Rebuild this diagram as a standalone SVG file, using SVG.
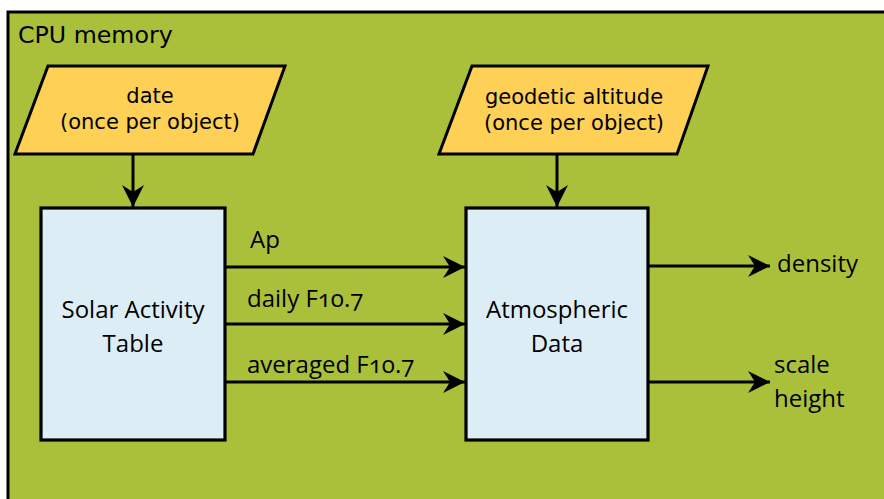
<svg xmlns="http://www.w3.org/2000/svg" width="884" height="499" viewBox="0 0 884 499">
  <defs>
    <marker id="arrow" markerUnits="userSpaceOnUse" markerWidth="24" markerHeight="24" viewBox="-23 -12 24 24" refX="0" refY="0" orient="auto">
      <path d="M0,0 L-22,-11 L-15,0 L-22,11 Z" fill="#000"/>
    </marker>
  </defs>
  <style>
    .frame { fill: #abc03a; stroke: #000; stroke-width: 3; }
    .io { fill: #fed055; stroke: #000; stroke-width: 3; stroke-linejoin: miter; }
    .proc { fill: #ddedf5; stroke: #000; stroke-width: 3.2; }
    .dv { font-family: "DejaVu Sans", sans-serif; font-size: 21px; fill: #000; }
    .hs { font-family: "Open Sans", "Noto Sans", sans-serif; font-size: 24px; fill: #000; font-variant-numeric: oldstyle-nums; }
    .edge { stroke: #000; stroke-width: 3; fill: none; marker-end: url(#arrow); }
  </style>

  <rect width="884" height="499" fill="#fff"/>

  <!-- memory region -->
  <g id="cpu-memory">
    <rect class="frame" x="8" y="12" width="890" height="500"/>
    <text class="dv" x="18" y="43" style="font-size:23.7px">CPU memory</text>
  </g>

  <g id="date">
    <polygon class="io" points="48,66 285,66 253,154 15,154"/>
    <text class="dv" text-anchor="middle" x="150" y="103">date</text>
    <text class="dv" text-anchor="middle" x="150" y="129">(once per object)</text>
  </g>

  <g id="altitude">
    <polygon class="io" points="472,66 708,66 677,154 439,154"/>
    <text class="dv" text-anchor="middle" x="574" y="104">geodetic altitude</text>
    <text class="dv" text-anchor="middle" x="574" y="130">(once per object)</text>
  </g>

  <g id="solar-activity">
    <rect class="proc" x="41" y="208" width="184" height="232"/>
    <text class="hs" text-anchor="middle" x="133" y="318">Solar Activity</text>
    <text class="hs" text-anchor="middle" x="133" y="352">Table</text>
  </g>

  <g id="atmosphere">
    <rect class="proc" x="466" y="208" width="182" height="232"/>
    <text class="hs" text-anchor="middle" x="557" y="318">Atmospheric</text>
    <text class="hs" text-anchor="middle" x="557" y="352">Data</text>
  </g>

  <g id="connectors">
    <line class="edge" x1="133" y1="154" x2="133" y2="207"/>
    <line class="edge" x1="557" y1="154" x2="557" y2="207"/>
    <line class="edge" x1="225" y1="267" x2="465" y2="267"/>
    <line class="edge" x1="225" y1="324" x2="465" y2="324"/>
    <line class="edge" x1="225" y1="382" x2="465" y2="382"/>
    <line class="edge" x1="648" y1="266" x2="770" y2="266"/>
    <line class="edge" x1="648" y1="382" x2="770" y2="382"/>
  </g>

  <g id="labels">
    <text class="hs" x="250" y="248">Ap</text>
    <text class="hs" x="247" y="307">daily F10.7</text>
    <text class="hs" x="247" y="373">averaged F10.7</text>
    <text class="hs" x="777" y="272">density</text>
    <text class="hs" x="774" y="373">scale</text>
    <text class="hs" x="774" y="407">height</text>
  </g>
</svg>
